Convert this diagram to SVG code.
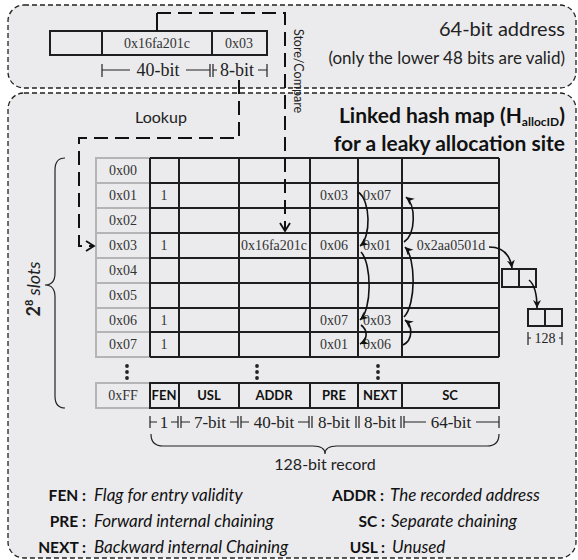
<svg xmlns="http://www.w3.org/2000/svg" width="578" height="560" viewBox="0 0 578 560">
<style>
.box{fill:#ebebed;stroke:#222;stroke-width:1.3;stroke-dasharray:5 3}
.sans{font-family:Lato,"Open Sans","Liberation Sans",sans-serif}
.serif{font-family:"Liberation Serif","Times New Roman",serif}
.cell{fill:none;stroke:#1e1e1e;stroke-width:2}
.lab{fill:none;stroke:#b4b4b4;stroke-width:2}
.t{font-family:"Liberation Serif","Times New Roman",serif;font-size:14px;fill:#333;text-anchor:middle}
.dim{font-family:"Liberation Serif","Times New Roman",serif;fill:#222;text-anchor:middle}
.dl{fill:none;stroke:#222;stroke-width:1.2}
.conn{fill:none;stroke:#111;stroke-width:2;stroke-dasharray:14 7}
.curve{fill:none;stroke:#111;stroke-width:1.6}
.hdr{font-family:Lato,"Open Sans","Liberation Sans",sans-serif;font-weight:bold;font-size:13px;fill:#111;text-anchor:middle}
.lk{font-family:Lato,"Open Sans","Liberation Sans",sans-serif;font-weight:bold;font-size:15.5px;fill:#111;text-anchor:end}
.ld{font-family:Lato,"Open Sans","Liberation Sans",sans-serif;font-style:italic;font-size:17px;fill:#111}
</style>
<defs>
<marker id="vopen" markerUnits="userSpaceOnUse" markerWidth="12" markerHeight="12" refX="9" refY="6" orient="auto">
<path d="M1,1 L9,6 L1,11" fill="none" stroke="#111" stroke-width="1.8" stroke-dasharray="none"/>
</marker>
<marker id="barb" markerUnits="userSpaceOnUse" markerWidth="10" markerHeight="10" refX="8" refY="4" orient="auto">
<path d="M0,0 L8,4 L0,8 L2.5,4 z" fill="#111"/>
</marker>
</defs>
<rect width="578" height="560" fill="#fff"/>

<g id="address-box">
<rect class="box" x="8" y="5" width="568" height="83" rx="16"/>
<text class="sans" x="565" y="36" font-size="20" text-anchor="end" fill="#222">64-bit address</text>
<text class="sans" x="565" y="64" font-size="17" text-anchor="end" fill="#222">(only the lower 48 bits are valid)</text>
</g>

<g id="hashmap-box">
<rect class="box" x="8" y="93" width="568" height="465" rx="16"/>
<text class="sans" x="565" y="123" font-size="21" font-weight="bold" text-anchor="end" fill="#111">Linked hash map (H<tspan font-size="12" dy="3">allocID</tspan><tspan dy="-3">)</tspan></text>
<text class="sans" x="565" y="151" font-size="21" font-weight="bold" text-anchor="end" fill="#111">for a leaky allocation site</text>
<text class="sans" x="161" y="123" font-size="16" text-anchor="middle" fill="#222">Lookup</text>
</g>

<g id="address-record">
<rect class="cell" x="50" y="31" width="217" height="24"/>
<line class="cell" x1="102" y1="31" x2="102" y2="55"/>
<line class="cell" x1="212" y1="31" x2="212" y2="55"/>
<text class="t" x="157" y="48">0x16fa201c</text>
<text class="t" x="239" y="48">0x03</text>
<path class="dl" d="M102,64 V77 M102,70 H130 M186,70 H210 M210,64 V77 M213,64 V77 M213,70 H217 M258,70 H267 M267,64 V77"/>
<text class="dim" x="158" y="76" font-size="18">40-bit</text>
<text class="dim" x="237" y="76" font-size="18">8-bit</text>
</g>

<g id="slots-brace">
<path class="dl" d="M65,158 Q55,158 55,170 L55,273 Q55,285 45,285 Q55,285 55,297 L55,396 Q55,408 65,408"/>
<text transform="translate(40,289) rotate(-90)" class="sans" font-size="18" text-anchor="middle" fill="#222"><tspan font-weight="bold">2</tspan><tspan font-weight="bold" font-size="11" dy="-7">8</tspan><tspan font-style="italic" dy="7"> slots</tspan></text>
</g>

<g id="slot-labels">
<rect class="lab" x="96" y="158" width="54" height="25"/>
<rect class="lab" x="96" y="183" width="54" height="25"/>
<rect class="lab" x="96" y="208" width="54" height="25"/>
<rect class="lab" x="96" y="233" width="54" height="25"/>
<rect class="lab" x="96" y="258" width="54" height="25"/>
<rect class="lab" x="96" y="283" width="54" height="25"/>
<rect class="lab" x="96" y="308" width="54" height="24"/>
<rect class="lab" x="96" y="332" width="54" height="25"/>
<rect class="lab" x="96" y="383" width="54" height="25"/>
<text class="t" x="123" y="175">0x00</text>
<text class="t" x="123" y="200">0x01</text>
<text class="t" x="123" y="225">0x02</text>
<text class="t" x="123" y="250">0x03</text>
<text class="t" x="123" y="275">0x04</text>
<text class="t" x="123" y="300">0x05</text>
<text class="t" x="123" y="325">0x06</text>
<text class="t" x="123" y="349">0x07</text>
<text class="t" x="123" y="400">0xFF</text>
<circle cx="127" cy="366" r="1.9" fill="#222"/><circle cx="127" cy="372" r="1.9" fill="#222"/><circle cx="127" cy="378" r="1.9" fill="#222"/>
</g>

<g id="table">
<path class="cell" d="M150,158 H499 M150,183 H499 M150,208 H499 M150,233 H499 M150,258 H499 M150,283 H499 M150,308 H499 M150,332 H499 M150,357 H499 M150,158 V357 M179,158 V357 M239,158 V357 M310,158 V357 M358,158 V357 M402,158 V357 M499,158 V357"/>
<text class="t" x="164" y="200">1</text>
<text class="t" x="164" y="250">1</text>
<text class="t" x="164" y="325">1</text>
<text class="t" x="164" y="349">1</text>
<text class="t" x="334" y="200">0x03</text>
<text class="t" x="377" y="200">0x07</text>
<text class="t" x="274" y="250">0x16fa201c</text>
<text class="t" x="334" y="250">0x06</text>
<text class="t" x="377" y="250">0x01</text>
<text class="t" x="451" y="250">0x2aa0501d</text>
<text class="t" x="334" y="325">0x07</text>
<text class="t" x="377" y="325">0x03</text>
<text class="t" x="334" y="349">0x01</text>
<text class="t" x="377" y="349">0x06</text>
<circle cx="257" cy="366" r="1.9" fill="#222"/><circle cx="257" cy="372" r="1.9" fill="#222"/><circle cx="257" cy="378" r="1.9" fill="#222"/>
<circle cx="378" cy="366" r="1.9" fill="#222"/><circle cx="378" cy="372" r="1.9" fill="#222"/><circle cx="378" cy="378" r="1.9" fill="#222"/>
</g>

<g id="record-format">
<path class="cell" d="M150,383 H499 V408 H150 Z M179,383 V408 M239,383 V408 M310,383 V408 M358,383 V408 M402,383 V408"/>
<text class="hdr" x="164" y="400">FEN</text>
<text class="hdr" x="209" y="400">USL</text>
<text class="hdr" x="274" y="400">ADDR</text>
<text class="hdr" x="334" y="400">PRE</text>
<text class="hdr" x="380" y="400">NEXT</text>
<text class="hdr" x="450" y="400">SC</text>
<path class="dl" d="M150,416 V428 M150,422 H157 M171,422 H178 M178,416 V428 M181,416 V428 M181,422 H190 M230,422 H238 M238,416 V428 M241,416 V428 M241,422 H249 M298,422 H309 M309,416 V428 M312,416 V428 M356,416 V428 M359,416 V428 M401,416 V428 M404,416 V428 M404,422 H426 M476,422 H499 M499,416 V428"/>
<text class="dim" x="164" y="428" font-size="17">1</text>
<text class="dim" x="210" y="428" font-size="17">7-bit</text>
<text class="dim" x="274" y="428" font-size="17">40-bit</text>
<text class="dim" x="334" y="428" font-size="17">8-bit</text>
<text class="dim" x="380" y="428" font-size="17">8-bit</text>
<text class="dim" x="451" y="428" font-size="17">64-bit</text>
<path class="dl" d="M151,434 Q151,446 163,446 L313,446 Q325,446 325,454 Q325,446 337,446 L487,446 Q499,446 499,434"/>
<text class="sans" x="325" y="470" font-size="16" text-anchor="middle" fill="#222">128-bit record</text>
</g>

<g id="separate-chain">
<rect class="cell" x="502" y="269" width="34" height="18" stroke-width="1.8"/>
<line class="cell" x1="519" y1="269" x2="519" y2="287" stroke-width="1.8"/>
<rect class="cell" x="528" y="309" width="34" height="17" stroke-width="1.8"/>
<line class="cell" x1="545" y1="309" x2="545" y2="326" stroke-width="1.8"/>
<path class="dl" d="M528,332 V345 M528,338 H531 M559,338 H562 M562,332 V345"/>
<text class="dim" x="545" y="343" font-size="14">128</text>
</g>

<g id="legend">
<text class="lk" x="86" y="501">FEN :</text>
<text class="ld" x="94" y="501">Flag for entry validity</text>
<text class="lk" x="86" y="527">PRE :</text>
<text class="ld" x="94" y="527">Forward internal chaining</text>
<text class="lk" x="86" y="553">NEXT :</text>
<text class="ld" x="94" y="553">Backward internal Chaining</text>
<text class="lk" x="384" y="501">ADDR :</text>
<text class="ld" x="390" y="501">The recorded address</text>
<text class="lk" x="385" y="527">SC :</text>
<text class="ld" x="391" y="527">Separate chaining</text>
<text class="lk" x="385" y="553">USL :</text>
<text class="ld" x="392" y="553">Unused</text>
</g>

<g id="connectors">
<line x1="157" y1="13" x2="157" y2="31" stroke="#111" stroke-width="2"/>
<path class="conn" d="M157,13 H285 V231" marker-end="url(#vopen)"/>
<text class="sans" transform="translate(294,71) rotate(90)" font-size="12.5" text-anchor="middle" fill="#222">Store/Compare</text>
<path class="conn" d="M239,80 V138 H79 V246 H94" marker-end="url(#vopen)"/>
<path class="curve" d="M358,192 C371,200 371,238 360,246" marker-end="url(#barb)"/>
<path class="curve" d="M361,252 C372,264 372,310 360,320" marker-end="url(#barb)"/>
<path class="curve" d="M361,325 C368,330 368,340 360,344" marker-end="url(#barb)"/>
<path class="curve" d="M404,242 C416,234 416,205 406,197" marker-end="url(#barb)"/>
<path class="curve" d="M404,317 C416,305 416,258 405,247" marker-end="url(#barb)"/>
<path class="curve" d="M403,345 C413,340 413,326 405,320" marker-end="url(#barb)"/>
<path class="curve" d="M489,247 C502,247 510,254 512,268" marker-end="url(#barb)"/>
<path class="curve" d="M529,280 C535,285 537,295 537,308" marker-end="url(#barb)"/>
</g>
</svg>
